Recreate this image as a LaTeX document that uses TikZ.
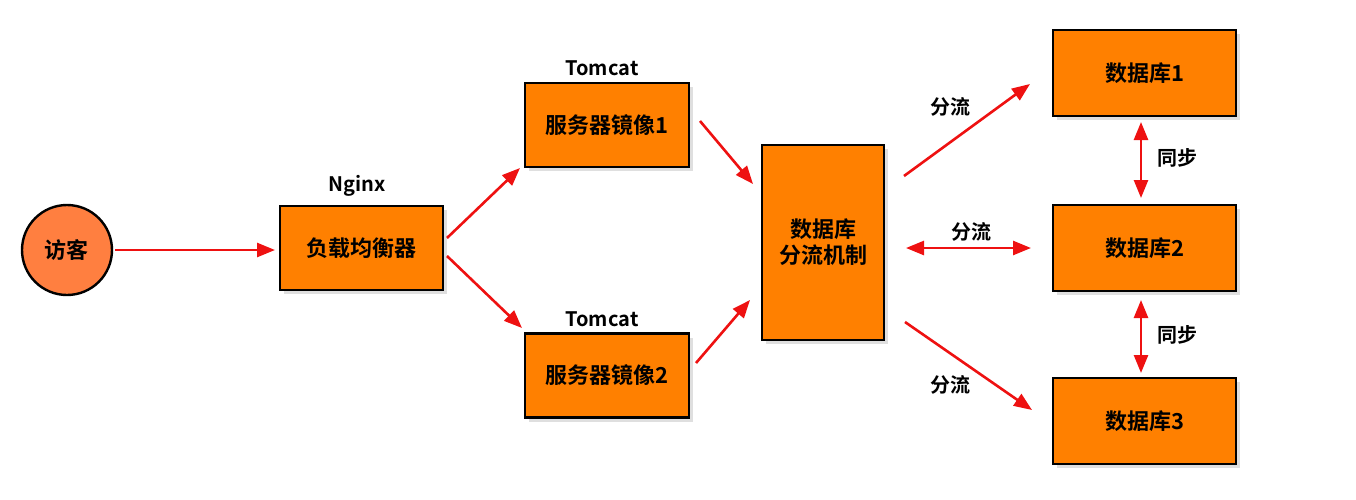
\documentclass[tikz,border=0pt]{standalone}
\usepackage{fontspec}
\setmainfont{Noto Sans CJK SC}[BoldFont={Noto Sans CJK SC Bold}]
\usetikzlibrary{arrows.meta,shadows}
\definecolor{org}{HTML}{FF8000}
\definecolor{visc}{HTML}{FF7F40}
\definecolor{arr}{HTML}{EE1111}
\tikzset{
  box/.style={draw=black,line width=1.2pt,fill=org,minimum width=#1,font=\bfseries\fontsize{11}{13}\selectfont,align=center,drop shadow={opacity=0.25,shadow xshift=2pt,shadow yshift=-2pt}},
  lab/.style={font=\bfseries\fontsize{10}{12}\selectfont},
  ar/.style={draw=arr,line width=1.3pt,-{Triangle[length=9pt,width=7pt]}},
  dar/.style={draw=arr,line width=1.3pt,{Triangle[length=9pt,width=7pt]}-{Triangle[length=9pt,width=7pt]}}
}
\begin{document}
\begin{tikzpicture}[x=0.5pt,y=-0.5pt]
\useasboundingbox (0,0) rectangle (1356,499);
\node[circle,draw=black,line width=1.2pt,fill=visc,minimum size=45pt,font=\bfseries\fontsize{11}{13}\selectfont] (v) at (67,250) {访客};
\node[box=81.5pt,minimum height=42pt] (lb) at (361.5,248) {负载均衡器};
\node[lab] (ng) at (357,186) {Nginx};
\node[box=82pt,minimum height=42pt] (s1) at (607,125) {服务器镜像1};
\node[lab] (t1) at (602,68) {Tomcat};
\node[box=82pt,minimum height=42pt] (s2) at (607,375.5) {服务器镜像2};
\node[lab] (t2) at (602,319) {Tomcat};
\node[box=61pt,minimum height=97.5pt] (m) at (823,242.5) {数据库\\分流机制};
\node[box=91.5pt,minimum height=43pt] (d1) at (1144.5,73) {数据库1};
\node[box=91.5pt,minimum height=43pt] (d2) at (1144.5,248) {数据库2};
\node[box=91.5pt,minimum height=43pt] (d3) at (1144.5,421) {数据库3};
\coordinate (a0) at (115,250); \coordinate (a1) at (275,250);
\draw[ar] (a0) -- (a1);
\coordinate (b0) at (447,238); \coordinate (b1) at (520,168);
\draw[ar] (b0) -- (b1);
\coordinate (c0) at (447,256); \coordinate (c1) at (522,328);
\draw[ar] (c0) -- (c1);
\coordinate (e0) at (700,121); \coordinate (e1) at (753,184);
\draw[ar] (e0) -- (e1);
\coordinate (f0) at (696,363); \coordinate (f1) at (750,300);
\draw[ar] (f0) -- (f1);
\coordinate (g0) at (904,176); \coordinate (g1) at (1030,84);
\draw[ar] (g0) -- (g1);
\coordinate (h0) at (906,248); \coordinate (h1) at (1031,248);
\draw[dar] (h0) -- (h1);
\coordinate (i0) at (905,322); \coordinate (i1) at (1032,410);
\draw[ar] (i0) -- (i1);
\coordinate (j0) at (1141,122); \coordinate (j1) at (1141,198);
\draw[dar] (j0) -- (j1);
\coordinate (k0) at (1141,300); \coordinate (k1) at (1141,373);
\draw[dar] (k0) -- (k1);
\node[lab] (l1) at (950,107) {分流};
\node[lab] (l2) at (971,232) {分流};
\node[lab] (l3) at (950,385) {分流};
\node[lab] (l4) at (1177,158) {同步};
\node[lab] (l5) at (1177,335) {同步};
\end{tikzpicture}
\end{document}
